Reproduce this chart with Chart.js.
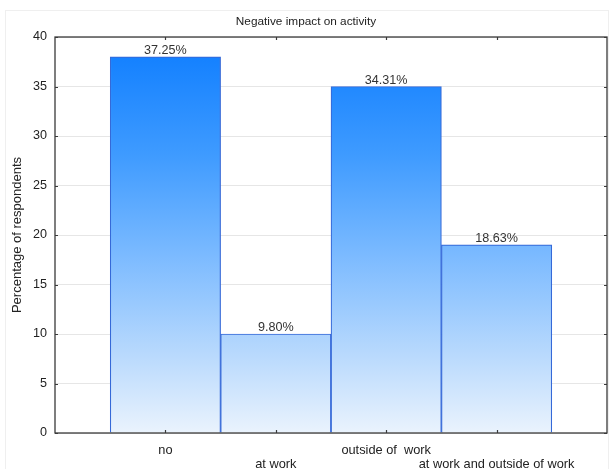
<!DOCTYPE html>
<html>
<head>
<meta charset="utf-8">
<script src="https://cdn.jsdelivr.net/npm/chart.js@4/dist/chart.umd.min.js"></script>
<style>
  html, body { margin: 0; padding: 0; background: #fff; }
  #wrap { position: relative; width: 612px; height: 469px; }
  #frame { position: absolute; left: 5px; top: 10px; width: 604px; height: 470px;
           border: 1px solid #efefef; box-sizing: border-box; pointer-events: none; }
  canvas { position: absolute; left: 0; top: 0; }
</style>
</head>
<body>
<div id="wrap">
  <div id="frame"></div>
  <canvas id="c" width="612" height="469"></canvas>
</div>
<script>
// Respondents per answer (n = 102); bar labels show each share in percent
const categories = ['no', 'at work', 'outside of  work', 'at work and outside of work'];
const counts = [38, 10, 35, 19];
const yTicks = [0, 5, 10, 15, 20, 25, 30, 35, 40];
const chartTitle = 'Negative impact on activity';
const yTitle = 'Percentage of respondents';

const total = counts.reduce((a, b) => a + b, 0);
const shareLabels = counts.map(v => (v / total * 100).toFixed(2) + '%');
const points = counts.map((v, i) => ({ x: i, y: v }));

const FONT = '"Liberation Sans", Arial, sans-serif';
const AXIS = '#3a3a3a';

function barGradient(ctx) {
  const area = ctx.chart.chartArea;
  if (!area) return '#1482ff';
  const g = ctx.chart.ctx.createLinearGradient(0, area.top, 0, area.bottom);
  g.addColorStop(0.0, '#0c7cff');
  g.addColorStop(0.3, '#3f9bff');
  g.addColorStop(0.55, '#7bbaff');
  g.addColorStop(0.8, '#b8d9fd');
  g.addColorStop(1.0, '#eaf3fd');
  return g;
}

// Box round the plot area with short inward ticks on every side
const framePlugin = {
  id: 'frame',
  afterDraw(chart) {
    const { ctx, chartArea: a, scales } = chart;
    ctx.save();
    ctx.strokeStyle = AXIS;
    ctx.lineWidth = 1.3;
    ctx.strokeRect(a.left, a.top, a.right - a.left, a.bottom - a.top);
    ctx.lineWidth = 1.2;
    ctx.beginPath();
    yTicks.forEach(t => {
      const y = Math.round(scales.y.getPixelForValue(t)) + 0.5;
      ctx.moveTo(a.left, y); ctx.lineTo(a.left + 3, y);
      ctx.moveTo(a.right, y); ctx.lineTo(a.right - 3, y);
    });
    categories.forEach((_, i) => {
      const x = Math.round(scales.x.getPixelForValue(i)) + 0.5;
      ctx.moveTo(x, a.top); ctx.lineTo(x, a.top + 3);
      ctx.moveTo(x, a.bottom); ctx.lineTo(x, a.bottom - 3);
    });
    ctx.stroke();

    // chart title
    ctx.fillStyle = '#222';
    ctx.font = '11.8px ' + FONT;
    ctx.textAlign = 'center';
    ctx.textBaseline = 'alphabetic';
    ctx.fillText(chartTitle, chart.width / 2, 25);
    ctx.restore();
  }
};

// Percentage above every bar
const valueLabels = {
  id: 'valueLabels',
  afterDatasetsDraw(chart) {
    const { ctx } = chart;
    const meta = chart.getDatasetMeta(0);
    ctx.save();
    ctx.fillStyle = '#333';
    ctx.font = '12.6px ' + FONT;
    ctx.textAlign = 'center';
    ctx.textBaseline = 'alphabetic';
    meta.data.forEach((bar, i) => {
      ctx.fillText(shareLabels[i], bar.x, bar.y - 3);
    });
    ctx.restore();
  }
};

new Chart(document.getElementById('c'), {
  type: 'bar',
  data: {
    datasets: [{
      data: points,
      backgroundColor: barGradient,
      borderColor: '#3569d8',
      borderWidth: 1.2,
      barPercentage: 1,
      categoryPercentage: 1
    }]
  },
  options: {
    responsive: false,
    animation: false,
    layout: { padding: { left: 0, right: 5, top: 37, bottom: 0 } },
    plugins: { legend: { display: false }, tooltip: { enabled: false }, title: { display: false } },
    scales: {
      x: {
        type: 'linear',
        offset: false,
        min: -1,
        max: 4,
        afterFit(s) { s.height = 36; },
        afterBuildTicks(s) { s.ticks = categories.map((_, i) => ({ value: i })); },
        grid: { display: false, offset: false },
        border: { display: false },
        ticks: {
          autoSkip: false,
          maxRotation: 0,
          padding: 3,
          color: '#222',
          font: { family: FONT, size: 12.8, lineHeight: 1.06 },
          callback: (v) => {
            const i = Math.round(v);
            if (i < 0 || i >= categories.length) return '';
            return i % 2 === 0 ? categories[i] : ['', categories[i]];
          }
        }
      },
      y: {
        min: 0,
        max: 40,
        afterFit(s) { s.width = 55; },
        afterBuildTicks(s) { s.ticks = yTicks.map(v => ({ value: v })); },
        grid: { color: '#e6e6e6', lineWidth: 1, drawTicks: false },
        border: { display: false },
        ticks: {
          padding: 8,
          color: '#222',
          font: { family: FONT, size: 12.6 }
        },
        title: {
          display: true,
          text: yTitle,
          color: '#222',
          font: { family: FONT, size: 13 },
          padding: { top: 10, bottom: 0 }
        }
      }
    }
  },
  plugins: [framePlugin, valueLabels]
});
</script>
</body>
</html>
